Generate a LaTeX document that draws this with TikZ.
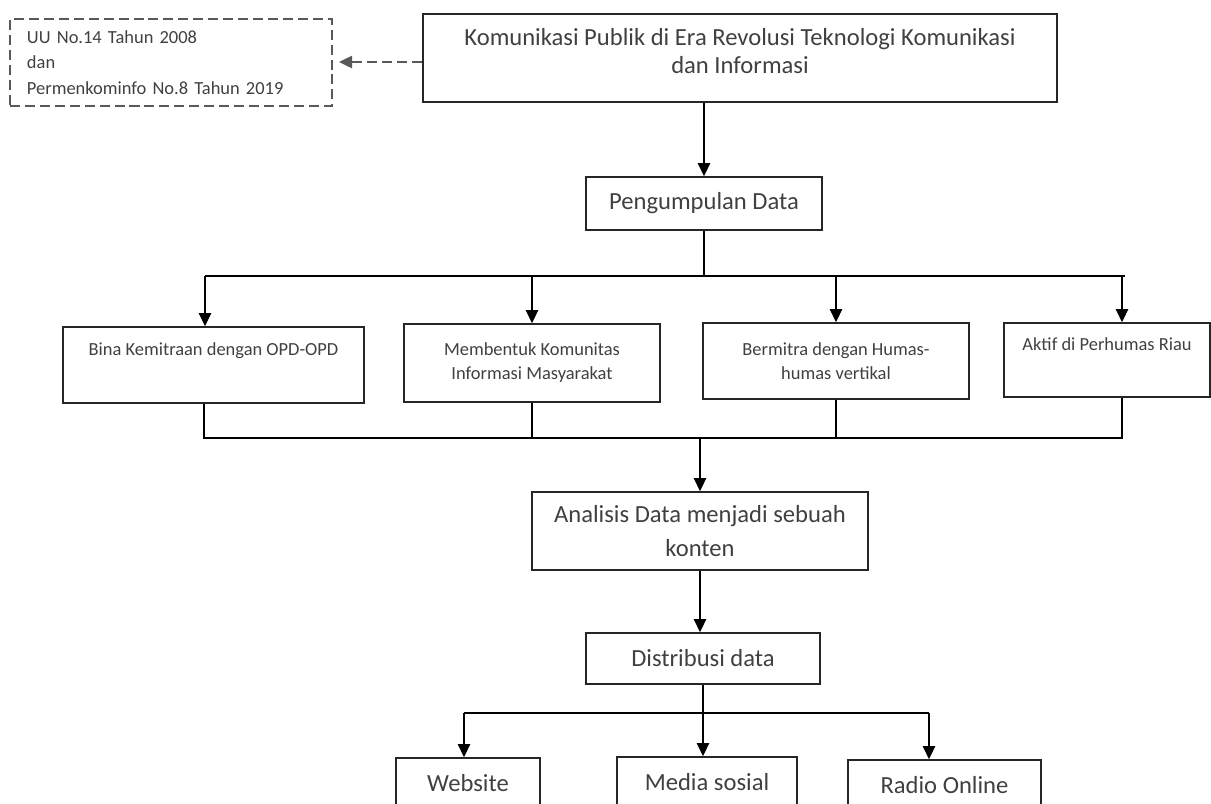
\documentclass[tikz,border=0pt]{standalone}
\usepackage{fontspec}
\setmainfont{Carlito}
\usetikzlibrary{arrows.meta}
\definecolor{teks}{HTML}{404040}
\definecolor{garis}{HTML}{262626}
\definecolor{putus}{HTML}{595959}

\begin{document}
\begin{tikzpicture}[x=0.2mm, y=-0.2mm,
		kotak/.style={draw=garis, line width=0.9pt, text=teks, align=center, inner sep=0pt},
		besar/.style={font=\fontsize{14}{16}\selectfont},
		kecil/.style={font=\fontsize{10.5}{13.7}\selectfont},
		panah/.style={-{Triangle[length=7.5pt,width=7pt]}, line width=1.1pt},
		hubung/.style={line width=0.7pt},
		garisputus/.style={draw=putus, dash pattern=on 5.7pt off 2.8pt, line width=1.1pt}]
			\useasboundingbox (0,0) rectangle (1211,803);
			\clip (0,0) rectangle (1211,803);
			
			\node[kotak, besar, minimum width=126.8mm, minimum height=17.6mm] (utama) at (740,58) {Komunikasi Publik di Era Revolusi Teknologi Komunikasi\\dan Informasi\\[-7.5pt]\mbox{}};
			\node[kotak, font=\fontsize{10.5}{14.5}\selectfont, garisputus, align=left, text width=57.6mm, inner xsep=3.4mm, minimum height=17.4mm] (dasar) at (171,62.5) {UU No.14 Tahun 2008\\dan\\Permenkominfo No.8 Tahun 2019};
			\node[kotak, besar, minimum width=47.2mm, minimum height=10.6mm] (kumpul) at (704,203.5) {Pengumpulan Data};
			
			\node[kotak, kecil, minimum width=60.2mm, minimum height=15.2mm] (bina) at (213.5,365) {Bina Kemitraan dengan OPD-OPD\\ \strut};
			\node[kotak, kecil, minimum width=51.2mm, minimum height=15.6mm] (bentuk) at (532,363) {Membentuk Komunitas\\Informasi Masyarakat};
			\node[kotak, kecil, minimum width=53.2mm, minimum height=15.2mm] (mitra) at (836,361) {Bermitra dengan Humas-\\humas vertikal};
			\node[kotak, kecil, minimum width=41.2mm, minimum height=14.8mm] (aktif) at (1107,360) {Aktif di Perhumas Riau\\ \strut};
			
			\node[kotak, font=\fontsize{14}{19}\selectfont, minimum width=67.2mm, minimum height=15.6mm] (analisis) at (700,531) {Analisis Data menjadi sebuah\\konten};
			\node[kotak, besar, minimum width=46.8mm, minimum height=10.2mm] (distribusi) at (703,658.5) {Distribusi data};
			\node[kotak, besar, minimum width=28.8mm, minimum height=10mm] (website) at (468,783) {Website};
			\node[kotak, besar, minimum width=36mm, minimum height=10mm] (media) at (707,782) {Media sosial};
			\node[kotak, besar, minimum width=38.6mm, minimum height=10mm] (radio) at (944.5,785) {Radio Online};
			
			\coordinate (bus1) at (205,276);
			\coordinate (bus2) at (1122,276);
			\coordinate (kol1) at (204,438);
			\coordinate (kol2) at (1122,438);
			\coordinate (bus3) at (464,713);
			\coordinate (bus4) at (929,713);
			
			\draw[panah, garisputus, shorten >=1.2mm] ([yshift=-0.8mm]utama.west) -- ([yshift=-0.8mm]utama.west -| dasar.east);
			\draw[panah] (kumpul.north |- utama.south) -- (kumpul.north);
			\draw[hubung] (kumpul.south) -- (kumpul.south |- bus1);
			\draw[hubung] (bus1) -- ([xshift=0.6mm]bus2);
			\draw[panah] (bus1) -- (bus1 |- bina.north);
			\foreach \n in {bentuk, mitra} \draw[panah] (\n.north |- bus1) -- (\n.north);
			\draw[panah] (bus2) -- (bus2 |- aktif.north);
			
			\draw[hubung] (bina.south -| kol1) -- (kol1) -- (kol2) -- (kol2 |- aktif.south);
			\foreach \n in {bentuk, mitra} \draw[hubung] (\n.south) -- (\n.south |- kol1);
			\draw[panah] (analisis.north |- kol1) -- (analisis.north);
			\draw[panah] (analisis.south) -- (analisis.south |- distribusi.north);
			
			\draw[hubung] (distribusi.south) -- (distribusi.south |- bus3);
			\draw[hubung] (bus3) -- (bus4);
			\draw[panah] (bus3) -- (bus3 |- website.north);
			\draw[panah] (distribusi.south |- bus3) -- (distribusi.south |- media.north);
			\draw[panah] (bus4) -- (bus4 |- radio.north);
		\end{tikzpicture}
\end{document}
